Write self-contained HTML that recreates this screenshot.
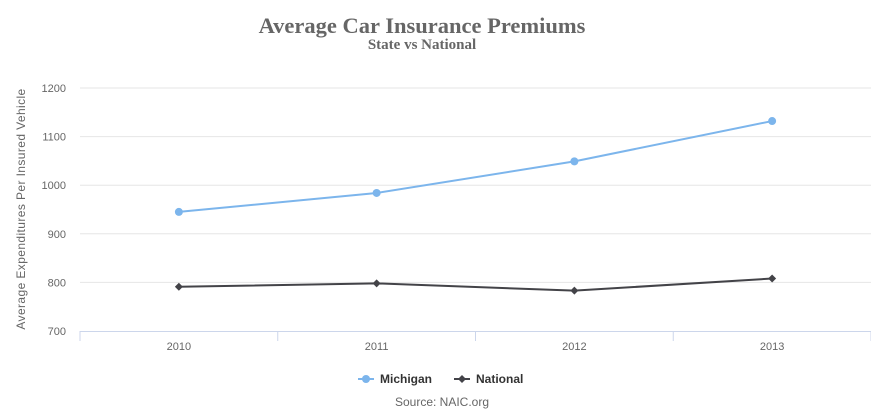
<!DOCTYPE html>
<html><head><meta charset="utf-8"><style>
body{margin:0;background:#fff;}
svg{display:block;font-family:"Liberation Sans",sans-serif;}
</style></head><body>
<svg id="c" width="871" height="416">
<text x="422" y="33" text-anchor="middle" font-family="Liberation Serif,serif" font-weight="bold" font-size="22.5" fill="#666">Average Car Insurance Premiums</text>
<text x="422" y="49" text-anchor="middle" font-family="Liberation Serif,serif" font-weight="bold" font-size="15" fill="#666">State vs National</text>
<text transform="translate(25,209) rotate(-90)" text-anchor="middle" font-size="12" fill="#666" letter-spacing="0.4">Average Expenditures Per Insured Vehicle</text>
<g id="grid"></g><g id="series"></g>
<g>
<g><line x1="358" y1="379" x2="374" y2="379" stroke="#7cb5ec" stroke-width="2"/><circle cx="366" cy="379" r="4" fill="#7cb5ec"/><text x="380" y="383" font-size="12" font-weight="bold" fill="#333">Michigan</text></g>
<g><line x1="454" y1="379" x2="470" y2="379" stroke="#434348" stroke-width="2"/><path d="M462 375 L466 379 L462 383 L458 379Z" fill="#434348"/><text x="476" y="383" font-size="12" font-weight="bold" fill="#333">National</text></g>
</g>
<text x="442" y="406" text-anchor="middle" font-size="12" fill="#666">Source: NAIC.org</text>
</svg>
<script>
const categories=["2010","2011","2012","2013"];
const michigan=[945,984,1049,1132];
const national=[791,798,783,808];
const yTicks=[700,800,900,1000,1100,1200];
const NS="http://www.w3.org/2000/svg";
const L=80,R=871,T=88,B=331,ymin=700,ymax=1200;
const bw=(R-L)/categories.length;
const x=i=>L+bw*(i+0.5);
const y=v=>B-(v-ymin)/(ymax-ymin)*(B-T);
function mk(t,a,p){const e=document.createElementNS(NS,t);for(const k in a)e.setAttribute(k,a[k]);p.appendChild(e);return e;}
const g=document.getElementById('grid'),s=document.getElementById('series');
yTicks.forEach(v=>{
 if(v>ymin){const l=mk('line',{x1:L,x2:R,y1:y(v),y2:y(v),stroke:'#e6e6e6'},g);
 
 }
 const t=mk('text',{x:66,y:y(v)+4,'text-anchor':'end','font-size':11,fill:'#666'},g);t.textContent=v;
 
 
});
mk('line',{x1:L,x2:R,y1:B+0.5,y2:B+0.5,stroke:'#ccd6eb'},g);
for(let i=0;i<=categories.length;i++){mk('line',{x1:L+bw*i,x2:L+bw*i,y1:B,y2:B+10,stroke:'#ccd6eb'},g);}
categories.forEach((c,i)=>{const t=mk('text',{x:x(i),y:350,'text-anchor':'middle','font-size':11,fill:'#666'},g);t.textContent=c;
 
 });
function draw(data,color,name,diamond){
 const p=mk('path',{d:data.map((v,i)=>(i?'L':'M')+x(i)+' '+y(v)).join(' '),fill:'none',stroke:color,'stroke-width':2},s);
 
 
 data.forEach((v,i)=>{const cx=x(i),cy=y(v);let m;
  if(diamond)m=mk('path',{d:`M${cx} ${cy-4}L${cx+4} ${cy}L${cx} ${cy+4}L${cx-4} ${cy}Z`,fill:color},s);
  else m=mk('circle',{cx:cx,cy:cy,r:4,fill:color},s);
  
  });
}
draw(michigan,'#7cb5ec','michigan',false);
draw(national,'#434348','national',true);
</script>
</body></html>
